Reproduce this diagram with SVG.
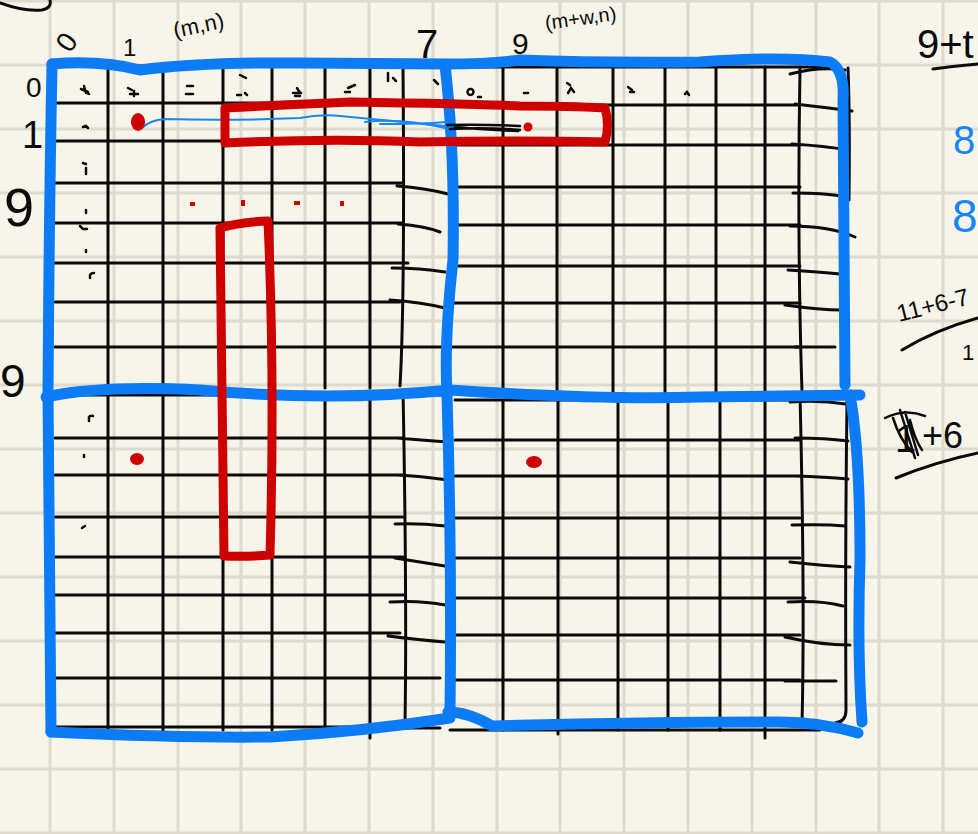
<svg xmlns="http://www.w3.org/2000/svg" width="978" height="834" viewBox="0 0 978 834">
<defs>
<style>
.bg{stroke:#dedacd;stroke-width:3;fill:none}
.k{stroke:#0b0b0b;stroke-width:3;fill:none;stroke-linecap:round}
.km{stroke:#0b0b0b;stroke-width:2.5;fill:none;stroke-linecap:round}
.b{stroke:#0b7cf6;stroke-width:11;fill:none;stroke-linecap:round;stroke-linejoin:round}
.bt{stroke:#1a86f5;stroke-width:2;fill:none;stroke-linecap:round}
.r{stroke:#cf0000;stroke-width:9;fill:none;stroke-linecap:round;stroke-linejoin:round}
.rd{fill:#cf0000}
.t{font-family:"Liberation Sans",Arial,sans-serif;fill:#0b0b0b}
.tb{font-family:"Liberation Sans",Arial,sans-serif;fill:#1a86f5}
</style>
</defs>
<rect width="978" height="834" fill="#f7f5ea"/>
<g id="paper" class="bg">
<path d="M50 0V834M114 0V834M178 0V834M241 0V834M305 0V834M369 0V834M433 0V834M497 0V834M560 0V834M624 0V834M688 0V834M752 0V834M816 0V834M879 0V834M943 0V834"/>
<path d="M0 1H978M0 65H978M0 129H978M0 193H978M0 257H978M0 321H978M0 385H978M0 449H978M0 513H978M0 577H978M0 641H978M0 705H978M0 769H978M0 833H978"/>
</g>
<g id="grid-top-left" class="k">
<path d="M55 66H445"/>
<path d="M108 66V388M163 66V388M223 66V388M272 66V388M325 66V388M370 66V388M403 66Q405 300 400 386"/>
<path d="M55 103H450M55 141H450"/>
<path d="M55 183H403M397 186Q425 188 448 194"/>
<path d="M55 223H403M398 224Q425 226 440 232"/>
<path d="M55 263H408M392 268Q420 268 445 272"/>
<path d="M55 302H400M390 300Q420 302 445 308"/>
<path d="M55 347H405M392 347H442"/>
</g>
<g id="grid-top-right" class="k">
<path d="M450 67H836"/>
<path d="M503 67V392M557 67V392M613 67V392M665 67V392M716 67V392M765 67V392M800 67Q797 240 802 392"/>
<path d="M445 105H800M790 74Q820 66 845 70"/>
<path d="M450 145H800M795 104Q830 108 852 111"/>
<path d="M450 187H800M792 144Q825 146 848 150"/>
<path d="M450 225H800M793 193Q825 193 840 196"/>
<path d="M450 266H800M790 226Q830 226 855 237"/>
<path d="M450 303H800M788 270Q820 272 840 274"/>
<path d="M450 347H800M785 305Q820 310 842 310"/>
<path d="M795 347H835"/>
<path d="M848 68Q850 120 849 200"/>
</g>
<g id="grid-bottom-left" class="k">
<path d="M55 395H445"/>
<path d="M108 395V730M163 395V732M223 395V730M272 395V730M325 395V730M370 395V738M403 390Q407 600 405 725"/>
<path d="M55 438H403M397 438Q420 440 448 442"/>
<path d="M55 475H403M397 475Q420 476 448 480"/>
<path d="M55 517H403M395 524Q420 523 445 526"/>
<path d="M55 557H403M395 558Q420 562 445 566"/>
<path d="M55 595H405M390 602Q420 600 445 605"/>
<path d="M55 633H400M388 636Q420 640 445 642"/>
<path d="M55 678H403M390 678H440"/>
<path d="M55 727H365M405 728H440"/>
</g>
<g id="grid-bottom-right" class="k">
<path d="M455 400H820"/>
<path d="M503 400V730M558 400V734M618 400V730M668 400V730M720 400V730M765 400V738M800 395Q805 600 802 725"/>
<path d="M455 440H800M795 438Q825 438 848 441"/>
<path d="M455 476H800M795 476Q825 477 848 479"/>
<path d="M455 518H800M792 525Q825 524 845 526"/>
<path d="M455 558H800M790 562Q825 566 850 567"/>
<path d="M455 598H805M788 602Q820 600 843 606"/>
<path d="M455 635H800M785 637Q820 645 850 645"/>
<path d="M455 680H800M785 681H836"/>
<path d="M450 730H820"/>
<path d="M847 402Q845 550 846 710Q846 722 835 723"/>
<path d="M790 402Q820 400 846 404"/>
</g>
<g id="cell-marks" class="km">
<path d="M81 89l7 3M84 86l2 7M87 93l2 1"/>
<path d="M128 88l4 2M130 94h8M134 91v5"/>
<path d="M187 86h6M186 94h7"/>
<path d="M240 75l6 3M237 95h4M245 93l2 2"/>
<path d="M293 93h8M297 88l3 5M295 96h5"/>
<path d="M348 88l7-3M345 92h5"/>
<path d="M388 73v8M393 78l3 3"/>
<path d="M434 80l4 4"/>
<path d="M470 89a3 3 0 1 0 1 0M478 97h3"/>
<path d="M524 93h4"/>
<path d="M567 83l3 2M568 93l3-5 3 4"/>
<path d="M628 87l4 3M630 92h4"/>
<path d="M685 94l2-2 2 3"/>
<path d="M83 127l3-1 2 2"/>
<path d="M83 163l3 1M86 168v6"/>
<path d="M86 210v3"/>
<path d="M80 226l3 3h4"/>
<path d="M86 250v2"/>
<path d="M90 278v-3q1-2 4-2"/>
<path d="M89 421v-4q1-2 4-1"/>
<path d="M84 455v2"/>
<path d="M82 528l3-2"/>
</g>
<g id="blue-quadrants" class="b">
<path d="M52 64Q100 60 140 70Q200 62 300 63L446 64Q490 64 520 60Q600 63 700 62Q780 56 830 62Q845 70 843 100L845 385"/>
<path d="M52 64Q49 220 48 395Q50 600 51 732"/>
<path d="M46 397Q100 385 200 390Q330 402 450 390Q600 400 700 397L860 395"/>
<path d="M445 65Q455 150 453 260Q444 340 447 395Q452 560 450 712"/>
<path d="M51 732Q180 738 270 737Q360 732 450 718"/>
<path d="M448 712Q468 712 492 726Q650 722 780 722Q820 722 858 733"/>
<path d="M850 395Q860 450 860 560Q857 650 862 722"/>
</g>
<g id="trace" class="bt">
<path d="M142 128Q150 120 165 119Q230 121 300 118Q320 114 340 116Q380 120 445 126"/>
<path d="M365 122Q400 118 445 128M380 124Q420 124 447 122"/>
</g>
<g id="trace-scribble" class="km">
<path d="M447 125Q480 124 520 126M450 129Q485 127 520 130M455 127Q490 130 518 131"/>
</g>
<g id="red-boxes" class="r">
<path d="M225 108Q300 104 350 102Q480 104 520 106Q570 106 605 108Q610 125 605 142Q520 140 420 142Q330 138 225 143Z"/>
<path d="M220 228Q240 222 268 221Q275 380 270 555Q245 557 224 556Q222 400 220 228Z"/>
</g>
<g id="red-dots">
<ellipse class="rd" cx="138" cy="122" rx="7" ry="9"/>
<circle class="rd" cx="528" cy="127" r="4.5"/>
<ellipse class="rd" cx="137" cy="459" rx="7" ry="6"/>
<ellipse class="rd" cx="534" cy="462" rx="8" ry="6"/>
<rect class="rd" x="190" y="202" width="5" height="4"/>
<rect class="rd" x="241" y="200" width="4" height="6"/>
<rect class="rd" x="294" y="201" width="6" height="4"/>
<rect class="rd" x="340" y="201" width="4" height="5"/>
</g>
<g id="labels-top">
<text class="t" font-size="28" transform="translate(70 54) rotate(-55)">0</text>
<text class="t" font-size="24" x="123" y="56">1</text>
<text class="t" font-size="22" transform="translate(175 38) rotate(-12)">(m,n)</text>
<text class="t" font-size="40" x="416" y="58">7</text>
<text class="t" font-size="30" x="512" y="54">9</text>
<text class="t" font-size="20" transform="translate(546 30) rotate(-8)">(m+w,n)</text>
</g>
<g id="labels-left">
<text class="t" font-size="28" x="26" y="97">0</text>
<text class="t" font-size="38" x="22" y="148">1</text>
<text class="t" font-size="54" x="4" y="226">9</text>
<text class="t" font-size="46" x="0" y="397">9</text>
</g>
<g id="notes-right">
<text class="t" font-size="40" x="917" y="58">9+t</text>
<path class="k" d="M933 69Q955 66 978 64"/>
<text class="tb" font-size="40" x="953" y="154">8</text>
<text class="tb" font-size="46" x="952" y="232">8</text>
<text class="t" font-size="24" transform="translate(899 322) rotate(-14)">11+6-7</text>
<path class="k" d="M902 350Q935 330 978 318"/>
<text class="t" font-size="22" x="962" y="360">1</text>
<text class="t" font-size="38" x="895" y="452">1</text>
<path class="km" d="M885 418Q905 408 925 416M900 410L915 458M905 412L918 455M893 418Q900 440 912 452M910 420Q915 440 922 450"/>
<text class="t" font-size="36" x="922" y="448">+6</text>
<path class="k" d="M896 478Q935 462 978 453"/>
</g>
<path class="k" d="M0 3Q25 12 42 10Q52 8 50 0"/>
</svg>
